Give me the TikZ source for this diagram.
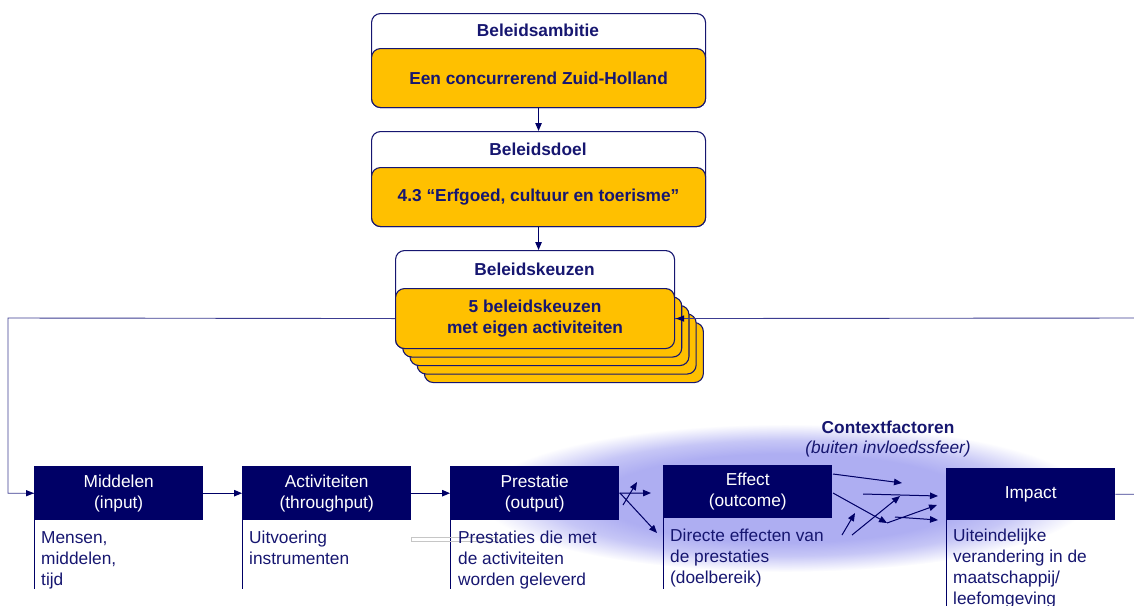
\documentclass[tikz,border=0pt]{standalone}
\usepackage{fontspec}
\setmainfont{Liberation Sans}
\usetikzlibrary{arrows.meta}
\definecolor{navy}{RGB}{0,0,102}
\definecolor{txtnavy}{RGB}{22,22,112}
\definecolor{linecol}{RGB}{60,60,145}
\definecolor{orng}{RGB}{255,192,0}
\definecolor{glow}{RGB}{174,174,242}
\definecolor{glowmid}{RGB}{198,198,246}
\pgfdeclareradialshading{glowshade}{\pgfpoint{0bp}{0bp}}{color(0bp)=(glow); color(15bp)=(glow); color(19.5bp)=(glowmid); color(25bp)=(white); color(50bp)=(white)}
\begin{document}
\begin{tikzpicture}[x=1pt,y=-1pt,
  every node/.style={font=\fontsize{17.3}{21}\selectfont},
  hdrbox/.style={draw=txtnavy, line width=1.1pt, fill=white, rounded corners=9pt, anchor=north west, inner sep=0pt},
  orbox/.style={draw=txtnavy, line width=1.1pt, fill=orng, rounded corners=9pt, anchor=north west, inner sep=0pt, text=txtnavy, align=center, font=\bfseries\fontsize{17.3}{21}\selectfont},
  btxt/.style={text=txtnavy, align=center, font=\bfseries\fontsize{17.3}{21}\selectfont},
  navybox/.style={fill=navy, text=white, anchor=north west, minimum width=169pt, minimum height=54pt, inner sep=0pt, align=center},
  desc/.style={text=txtnavy, anchor=north west, align=left, inner sep=0pt},
  arr/.style={-{Triangle[length=8pt,width=6.5pt]}, line width=1pt, draw=navy, fill=navy},
  fb/.style={draw=linecol, line width=0.9pt},
  vline/.style={draw=navy, line width=1pt}]
\useasboundingbox (0,0) rectangle (1134,605);

% glow
\shade[shading=glowshade] (785,498) ellipse [x radius=305pt, y radius=74pt];

% top box 1
\node[hdrbox, minimum width=334pt, minimum height=94pt] (amb) at (371,13) {};
\node[orbox, minimum width=334pt, minimum height=59pt] (ambo) at (371,48) {Een concurrerend Zuid-Holland};
\node[btxt] (ambt) at (538,30.5) {Beleidsambitie};

% top box 2
\node[hdrbox, minimum width=334pt, minimum height=95pt] (doel) at (371,131) {};
\node[orbox, minimum width=334pt, minimum height=59pt] (doelo) at (371,167) {4.3 “Erfgoed, cultuur en toerisme”};
\node[btxt] (doelt) at (538,149.5) {Beleidsdoel};

% box 3 with stack
\node[hdrbox, minimum width=279pt, minimum height=98pt] (keuz) at (395,250) {};
\foreach \k in {4,3,2,1}{
  \node[orbox, minimum width=279pt, minimum height=60pt] (card\k) at (395+7.2*\k,288+8.5*\k) {};
}
\node[orbox, minimum width=279pt, minimum height=60pt] (front) at (395,288) {5 beleidskeuzen\\met eigen activiteiten};
\node[btxt] (keuzt) at (534.5,269) {Beleidskeuzen};

\draw[arr] (ambo.south) -- (amb.south |- doel.north);
\draw[arr] (doelo.south) -- (doelo.south |- keuz.north);

% bottom boxes
\node[navybox] (mid) at (34,466) {Middelen\\(input)};
\node[navybox] (act) at (242,466) {Activiteiten\\(throughput)};
\node[navybox] (pre) at (450,466) {Prestatie\\(output)};
\node[navybox, minimum height=53pt] (eff) at (663,465) {Effect\\(outcome)};
\node[navybox, minimum height=52pt] (imp) at (946,468) {Impact};

% vertical lines under boxes
\draw[vline] (mid.south west) -- ++(0,69);
\draw[vline] (act.south west) -- ++(0,69);
\draw[vline] (pre.south west) -- ++(0,69);
\draw[vline] (eff.south west) -- ++(0,71);
\draw[vline] (imp.south west) -- ++(0,90);

% gray artifact
\draw[gray!45, line width=0.6pt] (411,537.5) rectangle (497,541.5);

% descriptions
\node[desc] (d1) at (41,531) {Mensen,\\middelen,\\tijd};
\node[desc] (d2) at (249,531) {Uitvoering\\instrumenten};
\node[desc] (d3) at (458,531) {Prestaties die met\\de activiteiten\\worden geleverd};
\node[desc] (d4) at (670,529) {Directe effecten van\\de prestaties\\(doelbereik)};
\node[desc] (d5) at (953,529) {Uiteindelijke\\verandering in de\\maatschappij/\\leefomgeving};

% main flow arrows
\draw[arr] (mid.east) -- (act.west);
\draw[arr] (act.east) -- (pre.west);

% feedback loop
\coordinate (fl1) at (8,318);
\coordinate (fr1) at (1137,318);
\draw[fb] (front.west) -- (fl1) |- (mid.west);
\fill[navy] (mid.west) -- ++(-8,-3.2) -- ++(0,6.4) -- cycle;
\draw[fb] (imp.east) -- (imp.east -| fr1) -- (fr1) -- (front.east);
\fill[navy] (front.east) ++(1,0) -- ++(8,-3.2) -- ++(0,6.4) -- cycle;

% context factors
\node[btxt] (ctx) at (888,427) {Contextfactoren};
\node[text=txtnavy, font=\itshape\fontsize{17.3}{21}\selectfont] (ctx2) at (888,449) {(buiten invloedssfeer)};

% arrows prestatie -> effect
\coordinate (pa) at (651,493);
\coordinate (pb1) at (623,505);
\coordinate (pb2) at (637,482);
\coordinate (pc1) at (620,493);
\coordinate (pc2) at (657,533);
\draw[arr] (pre.east) -- (pa);
\draw[arr] (pb1) -- (pb2);
\draw[arr] (pc1) -- (pc2);

% arrows effect -> impact
\coordinate (e1a) at (833,474); \coordinate (e1b) at (902,483);
\coordinate (e2a) at (863,494); \coordinate (e2b) at (938,496);
\coordinate (e3a) at (833,493); \coordinate (e3b) at (887,523);
\coordinate (e4a) at (842,535); \coordinate (e4b) at (855,513);
\coordinate (e5a) at (852,535); \coordinate (e5b) at (900,496);
\coordinate (e6a) at (887,523); \coordinate (e6b) at (937,505);
\coordinate (e7a) at (895,517); \coordinate (e7b) at (938,520);
\draw[arr] (e1a) -- (e1b);
\draw[arr] (e2a) -- (e2b);
\draw[arr] (e3a) -- (e3b);
\draw[arr] (e4a) -- (e4b);
\draw[arr] (e5a) -- (e5b);
\draw[arr] (e6a) -- (e6b);
\draw[arr] (e7a) -- (e7b);
\end{tikzpicture}
\end{document}
